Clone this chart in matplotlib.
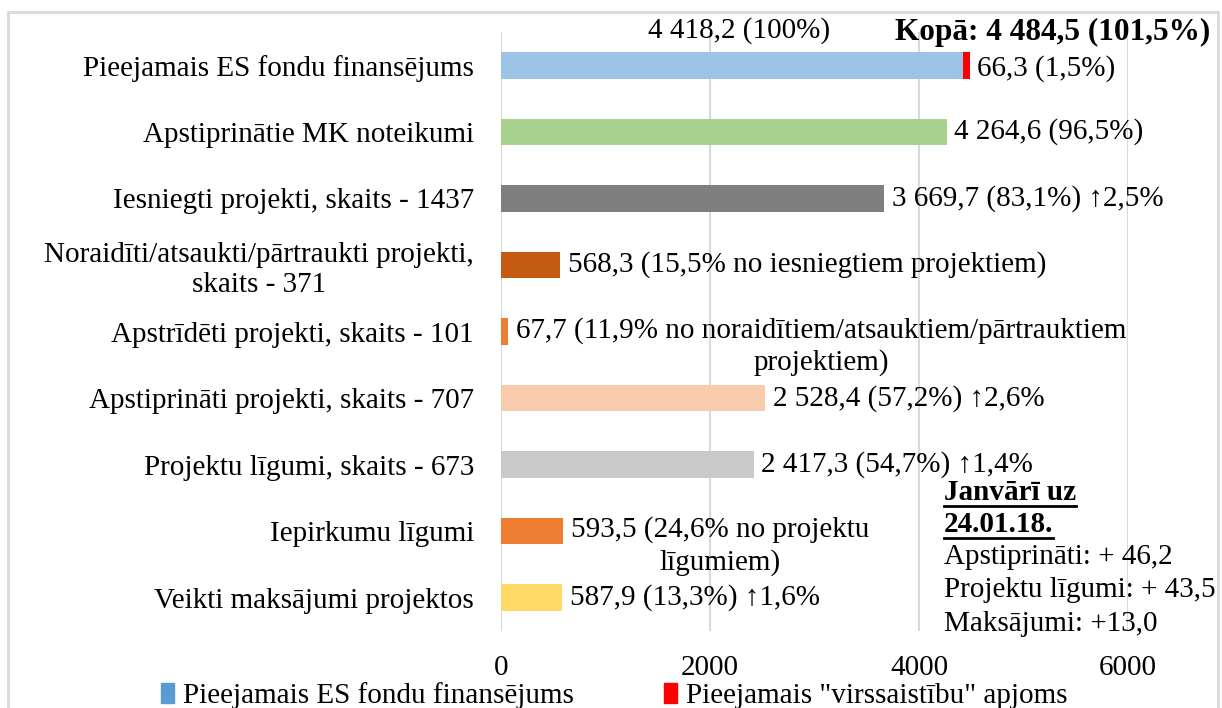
import matplotlib
matplotlib.use("Agg")
import matplotlib.pyplot as plt
from matplotlib.patches import Patch, Rectangle
from matplotlib.lines import Line2D

plt.rcParams['font.family'] = ['Liberation Serif', 'DejaVu Serif']

categories = [
    "Pieejamais ES fondu finansējums",
    "Apstiprinātie MK noteikumi",
    "Iesniegti projekti, skaits - 1437",
    "Noraidīti/atsaukti/pārtraukti projekti,\nskaits - 371",
    "Apstrīdēti projekti, skaits - 101",
    "Apstiprināti projekti, skaits - 707",
    "Projektu līgumi, skaits - 673",
    "Iepirkumu līgumi",
    "Veikti maksājumi projektos",
]
values = [4418.2, 4264.6, 3669.7, 568.3, 67.7, 2528.4, 2417.3, 593.5, 587.9]
overcommit = 66.3
bar_colors = ["#9dc3e6", "#a9d18e", "#7f7f7f", "#c55a11", "#ed7d31",
              "#f8cbad", "#c9c9c9", "#ed7d31", "#ffd966"]
labels = [
    None,
    "4 264,6 (96,5%)",
    "3 669,7 (83,1%) ↑2,5%",
    "568,3 (15,5% no iesniegtiem projektiem)",
    "67,7 (11,9% no noraidītiem/atsauktiem/pārtrauktiem\nprojektiem)",
    "2 528,4 (57,2%) ↑2,6%",
    "2 417,3 (54,7%) ↑1,4%",
    "593,5 (24,6% no projektu\nlīgumiem)",
    "587,9 (13,3%) ↑1,6%",
]
label_top = "4 418,2 (100%)"
label_over = "66,3 (1,5%)"
label_total = "Kopā: 4 484,5 (101,5%)"
xticks = [0, 2000, 4000, 6000]
legend_labels = ["Pieejamais ES fondu finansējums", 'Pieejamais "virssaistību" apjoms']
note_head = "Janvārī uz\n24.01.18."
note_lines = ["Apstiprināti: + 46,2", "Projektu līgumi: + 43,5", "Maksājumi: +13,0"]

W, H = 1222, 708
fig = plt.figure(figsize=(W / 100, H / 100), dpi=100)
ax = fig.add_axes([501 / W, 1 - 631 / H, (1128 - 501) / W, (631 - 32) / H])

fs = 21
ypos = list(range(len(categories)))
ax.barh(ypos, values, height=0.4, color=bar_colors, zorder=3)
ax.barh([0], [overcommit], left=[values[0]], height=0.4, color="#ff0000", zorder=3)

ax.set_xlim(0, 6000)
ax.set_ylim(len(categories) - 0.5, -0.5)
ax.set_xticks(xticks)
ax.set_xticklabels([str(t) for t in xticks], fontsize=fs)
ax.set_yticks(ypos)
ax.set_yticklabels(categories, fontsize=fs, multialignment='center')
ax.tick_params(axis='both', length=0)
ax.tick_params(axis='y', pad=19.5)
ax.tick_params(axis='x', pad=17)
ax.grid(axis='x', color="#d9d9d9", linewidth=1.5, zorder=0)
for s in ax.spines.values():
    s.set_visible(False)

off = 75
# data labels
for i, (v, lab) in enumerate(zip(values, labels)):
    if lab is None:
        continue
    if "\n" in lab:
        first, second = lab.split("\n")
        t = ax.text(v + off, i - 0.02, first, va='center', ha='left', fontsize=fs, zorder=4)
        fig.canvas.draw()
        bb = t.get_window_extent()
        cx_pix = (bb.x0 + bb.x1) / 2
        cx = ax.transData.inverted().transform((cx_pix, 0))[0]
        ax.text(cx, i + 0.47, second, va='center', ha='center', fontsize=fs, zorder=4)
    else:
        ax.text(v + off, i, lab, va='center', ha='left', fontsize=fs, zorder=4)

ax.text(values[0] + overcommit + off, 0.05, label_over, va='center', ha='left', fontsize=fs, zorder=4)
ax.text(2280, -0.52, label_top, va='center', ha='center', fontsize=fs, zorder=4, clip_on=False)
fig.text(1210 / W, 1 - 32 / H, label_total, va='center', ha='right', fontsize=22.5,
         fontweight='bold')

# note box
nx = 944 / W
hy = [493, 525]
for k, line in enumerate(note_head.split("\n")):
    t = fig.text(nx, 1 - hy[k] / H, line, va='center', ha='left', fontsize=fs, fontweight='bold')
    fig.canvas.draw()
    bb = t.get_window_extent()
    fig.add_artist(Line2D([bb.x0 / W, bb.x1 / W], [(bb.y0 + 1) / H, (bb.y0 + 1) / H],
                          color='black', linewidth=2, transform=fig.transFigure))
ly = [557, 590, 624]
for line, yy in zip(note_lines, ly):
    fig.text(nx, 1 - yy / H, line, va='center', ha='left', fontsize=fs)

# legend
handles = [Patch(color="#5b9bd5"), Patch(color="#ff0000")]
fig.legend(handles, legend_labels, loc='center', bbox_to_anchor=(614 / W, 1 - 696 / H),
           ncol=2, frameon=False, fontsize=fs, handlelength=0.45, handleheight=0.7,
           handletextpad=0.3, columnspacing=3.1, borderpad=0)

# outer chart frame
fig.add_artist(Rectangle((8 / W, -0.05), (1218 - 8) / W, 1 - 12 / H + 0.05,
                         transform=fig.transFigure, fill=False, edgecolor="#d9d9d9",
                         linewidth=2))

fig.savefig("out.png", dpi=100)
